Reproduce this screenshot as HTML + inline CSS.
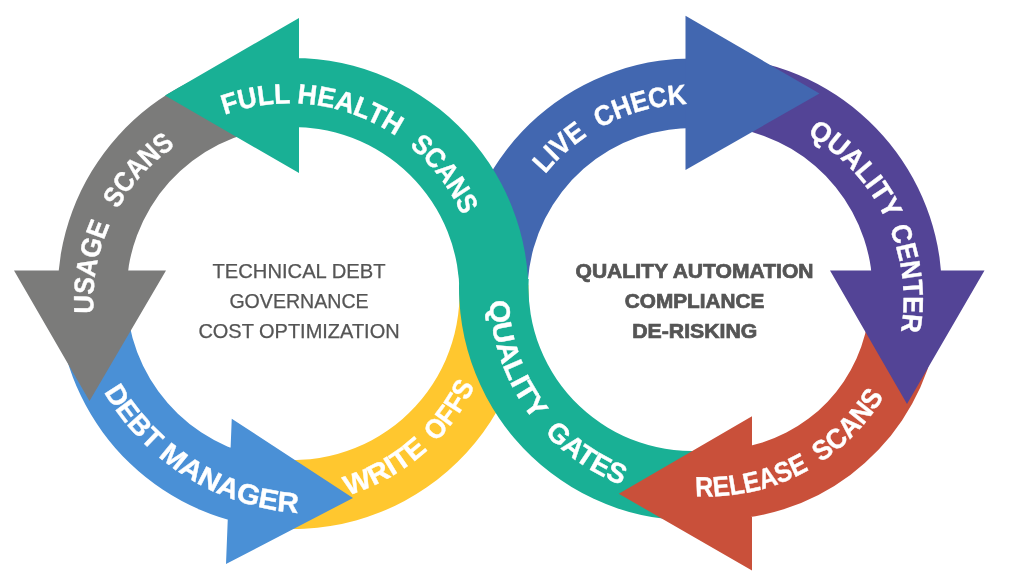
<!DOCTYPE html>
<html lang="en"><head><meta charset="utf-8"><title>Quality loop</title>
<style>
html,body{margin:0;padding:0;background:#fff;}
body{width:1024px;height:576px;overflow:hidden;font-family:"Liberation Sans",sans-serif;}
svg{display:block;will-change:transform;}
.arc text{font-family:"Liberation Sans",sans-serif;font-weight:700;fill:#fff;stroke:#fff;stroke-width:0.4;stroke-linejoin:round;}
.ctr text{font-family:"Liberation Sans",sans-serif;}
</style></head>
<body>
<svg width="1024" height="576" viewBox="0 0 1024 576">
<defs>
<path id="w0" d="M-63.75 -179.66A205.37 189 0 0 1 63.75 -179.66"/>
<path id="w1" d="M-62.9 -180.71A214.68 189 0 0 1 62.9 -180.71"/>
<path id="w2" d="M-46.11 -183.95A200.72 189 0 0 1 46.11 -183.95"/>
<path id="w3" d="M-70.95 -176.58A199.02 189 0 0 1 70.95 -176.58"/>
<path id="w4" d="M-62.84 -180.34A209.98 189 0 0 1 62.84 -180.34"/>
<path id="w5" d="M-49.2 239.64A243.24 244.7 0 0 0 49.2 239.64"/>
<path id="w6" d="M-91.25 224.59A229.86 244.7 0 0 0 91.25 224.59"/>
<path id="w7" d="M-57.77 197.21A199.91 206 0 0 0 57.77 197.21"/>
<path id="w8" d="M-48.19 201.21A224.83 206 0 0 0 48.19 201.21"/>
<path id="w9" d="M-77.5 188.92A194.37 206 0 0 0 77.5 188.92"/>
<path id="w10" d="M-60.46 197.02A207.03 206 0 0 0 60.46 197.02"/>
<path id="w11" d="M-40.21 -184.8A203.94 188.5 0 0 1 40.21 -184.8"/>
<path id="w12" d="M-63.72 -179.07A204.07 188.5 0 0 1 63.72 -179.07"/>
<path id="w13" d="M-77.8 -174.03A197.14 189.4 0 0 1 77.8 -174.03"/>
<path id="w14" d="M-73.34 -177.03A206.29 189.4 0 0 1 73.34 -177.03"/>
<path id="w15" d="M-84.22 191.35A230.94 205.5 0 0 0 84.22 191.35"/>
<path id="w16" d="M-62.88 196.86A219.13 205.5 0 0 0 62.88 196.86"/>
</defs>
<g class="shapes">
<g fill="#FFC72F"><path d="M252.11 525.42A235.5 235.5 0 0 0 528.36 285.28L459.4 287.69A166.5 166.5 0 0 1 264.09 457.47Z"/></g>
<g fill="#4A90D6"><path d="M58.4 272.97A235.5 235.5 0 0 0 240.02 522.96L255.55 455.73A166.5 166.5 0 0 1 127.13 278.99ZM231.75 418.75L226 564L353 498Z"/></g>
<g fill="#7B7B7A"><path d="M272.47 58.9A235.5 235.5 0 0 0 57.54 297.61L126.53 296.41A166.5 166.5 0 0 1 278.49 127.63ZM89.5 401L166 270.5L14 270.5Z"/></g>
<g fill="#4267B0"><path d="M458.72 274.14A234 234 0 0 1 704.25 58.82L700.61 128.23A164.5 164.5 0 0 0 528.01 279.59Z"/></g>
<g fill="#19B095"><path d="M528.36 301.72A235.5 235.5 0 0 0 280.67 58.32L284.29 127.23A166.5 166.5 0 0 1 459.4 299.31ZM459.32 275.31A233 233 0 0 0 716.36 519.22L709.09 450.1A163.5 163.5 0 0 1 528.72 278.94ZM165 95.5L299 173L299 18Z"/></g>
<g fill="#C9503A"><path d="M939.25 314.96A224.4 224.4 0 0 1 746.93 517.62L737.18 448.25A154.35 154.35 0 0 0 869.46 308.85ZM752 416.25L752 570.5L618.75 493.75Z"/></g>
<g fill="#534496"><path d="M748.2 60.16A234.4 234.4 0 0 1 941.76 299.18L872.4 296.76A165 165 0 0 0 736.15 128.51ZM830 270.5L984.5 270.5L907 404Z"/></g>
<g fill="#4267B0"><path d="M685.5 15.75L685.5 170L819.5 93.5Z"/></g>
</g>
<g class="arc">
<text font-size="28" transform="translate(282.3 301.85) rotate(280.3) scale(0.9203 1)"><textPath href="#w0" startOffset="50%" text-anchor="middle">USAGE</textPath></text>
<text font-size="28" transform="translate(282.3 301.85) rotate(-47.55) scale(0.8804 1)"><textPath href="#w1" startOffset="50%" text-anchor="middle">SCANS</textPath></text>
<text font-size="28" transform="translate(289.5 292.4) rotate(-9.89) scale(0.9416 1)"><textPath href="#w2" startOffset="50%" text-anchor="middle">FULL</textPath></text>
<text font-size="28" transform="translate(289.5 292.4) rotate(18.27) scale(0.9496 1)"><textPath href="#w3" startOffset="50%" text-anchor="middle">HEALTH</textPath></text>
<text font-size="28" transform="translate(289.5 292.4) rotate(52.65) scale(0.9001 1)"><textPath href="#w4" startOffset="50%" text-anchor="middle">SCANS</textPath></text>
<text font-size="28" transform="translate(315.4 268.9) rotate(50.87) scale(1.0060 1)"><textPath href="#w5" startOffset="50%" text-anchor="middle">DEBT</textPath></text>
<text font-size="28" transform="translate(315.4 268.9) rotate(22.05) scale(1.0646 1)"><textPath href="#w6" startOffset="50%" text-anchor="middle">MANAGER</textPath></text>
<text font-size="28" transform="translate(288.75 297.9) rotate(-29.56) scale(1.0305 1)"><textPath href="#w7" startOffset="50%" text-anchor="middle">WRITE</textPath></text>
<text font-size="28" transform="translate(288.75 297.9) rotate(-55.14) scale(0.9162 1)"><textPath href="#w8" startOffset="50%" text-anchor="middle">OFFS</textPath></text>
<text font-size="28" transform="translate(695.5 292.7) rotate(69.69) scale(1.0598 1)"><textPath href="#w9" startOffset="50%" text-anchor="middle">QUALITY</textPath></text>
<text font-size="28" transform="translate(695.5 292.7) rotate(34.06) scale(0.9950 1)"><textPath href="#w10" startOffset="50%" text-anchor="middle">GATES</textPath></text>
<text font-size="28" transform="translate(692 292.5) rotate(-42.4) scale(0.9243 1)"><textPath href="#w11" startOffset="50%" text-anchor="middle">LIVE</textPath></text>
<text font-size="28" transform="translate(692 292.5) rotate(-15.45) scale(0.9237 1)"><textPath href="#w12" startOffset="50%" text-anchor="middle">CHECK</textPath></text>
<text font-size="28" transform="translate(714.1 300) rotate(47.19) scale(0.9608 1)"><textPath href="#w13" startOffset="50%" text-anchor="middle">QUALITY</textPath></text>
<text font-size="28" transform="translate(714.1 300) rotate(83.64) scale(0.9181 1)"><textPath href="#w14" startOffset="50%" text-anchor="middle">CENTER</textPath></text>
<text font-size="28" transform="translate(707.5 291) rotate(-13.15) scale(0.8898 1)"><textPath href="#w15" startOffset="50%" text-anchor="middle">RELEASE</textPath></text>
<text font-size="28" transform="translate(707.5 291) rotate(-46.33) scale(0.9378 1)"><textPath href="#w16" startOffset="50%" text-anchor="middle">SCANS</textPath></text>
</g>
<g class="ctr">
<text x="299" y="278.25" text-anchor="middle" font-size="19.5" font-weight="400" fill="#555" stroke="#555" stroke-width="0.25" textLength="173" lengthAdjust="spacingAndGlyphs">TECHNICAL DEBT</text>
<text x="299" y="308.1" text-anchor="middle" font-size="19.5" font-weight="400" fill="#555" stroke="#555" stroke-width="0.25" textLength="139.25" lengthAdjust="spacingAndGlyphs">GOVERNANCE</text>
<text x="299" y="338.25" text-anchor="middle" font-size="19.5" font-weight="400" fill="#555" stroke="#555" stroke-width="0.25" textLength="201.25" lengthAdjust="spacingAndGlyphs">COST OPTIMIZATION</text>
<text x="694.5" y="278.25" text-anchor="middle" font-size="19.5" font-weight="700" fill="#555" stroke="#555" stroke-width="0.7" textLength="238" lengthAdjust="spacingAndGlyphs">QUALITY AUTOMATION</text>
<text x="694.5" y="308.1" text-anchor="middle" font-size="19.5" font-weight="700" fill="#555" stroke="#555" stroke-width="0.7" textLength="139.5" lengthAdjust="spacingAndGlyphs">COMPLIANCE</text>
<text x="694.75" y="338.1" text-anchor="middle" font-size="19.5" font-weight="700" fill="#555" stroke="#555" stroke-width="0.7" textLength="125" lengthAdjust="spacingAndGlyphs">DE-RISKING</text>
</g>
</svg>
</body></html>
